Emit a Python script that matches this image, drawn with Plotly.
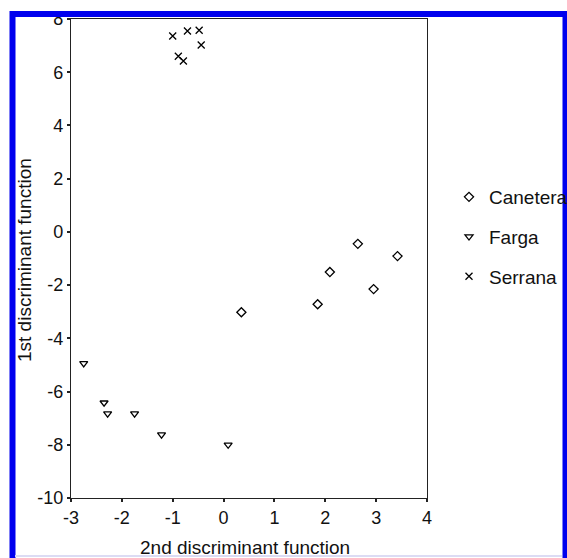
import plotly.graph_objects as go

# ---- data ----
canetera_x = [0.35, 1.85, 2.09, 2.64, 3.42, 2.95]
canetera_y = [-3.02, -2.72, -1.51, -0.45, -0.91, -2.15]

farga_x = [-2.75, -2.35, -2.28, -1.75, -1.22, 0.09]
farga_y = [-4.94, -6.42, -6.83, -6.83, -7.62, -8.0]

serrana_x = [-1.00, -0.71, -0.48, -0.44, -0.89, -0.79]
serrana_y = [7.36, 7.55, 7.58, 7.02, 6.60, 6.42]

x_ticks = [-3, -2, -1, 0, 1, 2, 3, 4]
x_tick_labels = ["-3", "-2", "-1", "0", "1", "2", "3", "4"]
y_ticks = [-10, -8, -6, -4, -2, 0, 2, 4, 6, 8]
y_tick_labels = ["-10", "-8", "-6", "-4", "-2", "0", "2", "4", "6", "8"]

W, H = 567, 558
ML, MR, MT, MB = 71, 140, 19, 60
PW, PH = W - ML - MR, H - MT - MB

def px(xp):
    return (xp - ML) / PW

def py(yp):
    return (H - MB - yp) / PH

FONT = "Liberation Sans, Arial, sans-serif"
INK = "#111"

fig = go.Figure()
fig.add_trace(go.Scatter(
    x=canetera_x, y=canetera_y, mode="markers", name="Canetera", legendgroup="a",
    marker=dict(symbol="diamond-open", size=7, color="black", line=dict(width=1.3, color="black")),
))
fig.add_trace(go.Scatter(
    x=farga_x, y=farga_y, mode="markers", name="Farga", legendgroup="b",
    marker=dict(symbol="triangle-down-open", size=7, color="black", line=dict(width=1.3, color="black")),
))
fig.add_trace(go.Scatter(
    x=serrana_x, y=serrana_y, mode="markers", name="Serrana", legendgroup="c",
    marker=dict(symbol="x-thin-open", size=7, color="black", line=dict(width=1.3, color="black")),
))

axis_common = dict(
    showgrid=False, zeroline=False, showline=True, linecolor="#222", linewidth=1.2,
    mirror=True, ticks="outside", ticklen=3, tickwidth=2, tickcolor="#222",
    tickfont=dict(family=FONT, size=18, color=INK),
)

fig.update_layout(
    width=W, height=H,
    margin=dict(l=ML, r=MR, t=MT, b=MB, autoexpand=False),
    paper_bgcolor="white", plot_bgcolor="white",
    xaxis=dict(range=[-3, 4], tickvals=x_ticks, ticktext=x_tick_labels, **axis_common),
    yaxis=dict(range=[-10, 8], tickvals=y_ticks, ticktext=y_tick_labels, **axis_common),
    showlegend=True,
    legend=dict(
        x=px(449), y=py(178), xanchor="left", yanchor="top",
        font=dict(family=FONT, size=19, color=INK),
        traceorder="grouped", tracegroupgap=12, bgcolor="rgba(0,0,0,0)",
    ),
    annotations=[
        dict(text="2nd discriminant function", x=px(245), y=py(547), xref="paper", yref="paper",
             xanchor="center", yanchor="middle", showarrow=False,
             font=dict(family=FONT, size=19, color=INK)),
        dict(text="1st discriminant function", x=px(24), y=py(260), xref="paper", yref="paper",
             xanchor="center", yanchor="middle", showarrow=False, textangle=-90,
             font=dict(family=FONT, size=19, color=INK)),
    ],
    shapes=[
        dict(type="line", xref="paper", yref="paper", x0=px(12.5), x1=px(12.5), y0=py(11), y1=py(H),
             line=dict(color="#0000ee", width=6), layer="above"),
        dict(type="line", xref="paper", yref="paper", x0=px(10), x1=px(W), y0=py(14), y1=py(14),
             line=dict(color="#0000ee", width=6), layer="above"),
        dict(type="line", xref="paper", yref="paper", x0=px(565), x1=px(565), y0=py(11), y1=py(H),
             line=dict(color="#0000ee", width=5), layer="above"),
        dict(type="line", xref="paper", yref="paper", x0=px(15), x1=px(562), y0=py(556), y1=py(556),
             line=dict(color="#dcdcf4", width=2), layer="above"),
    ],
)

fig.write_html(
    "out.html",
    config={"displayModeBar": False},
    post_script="document.body.style.margin='0';document.body.style.overflow='hidden';",
)
